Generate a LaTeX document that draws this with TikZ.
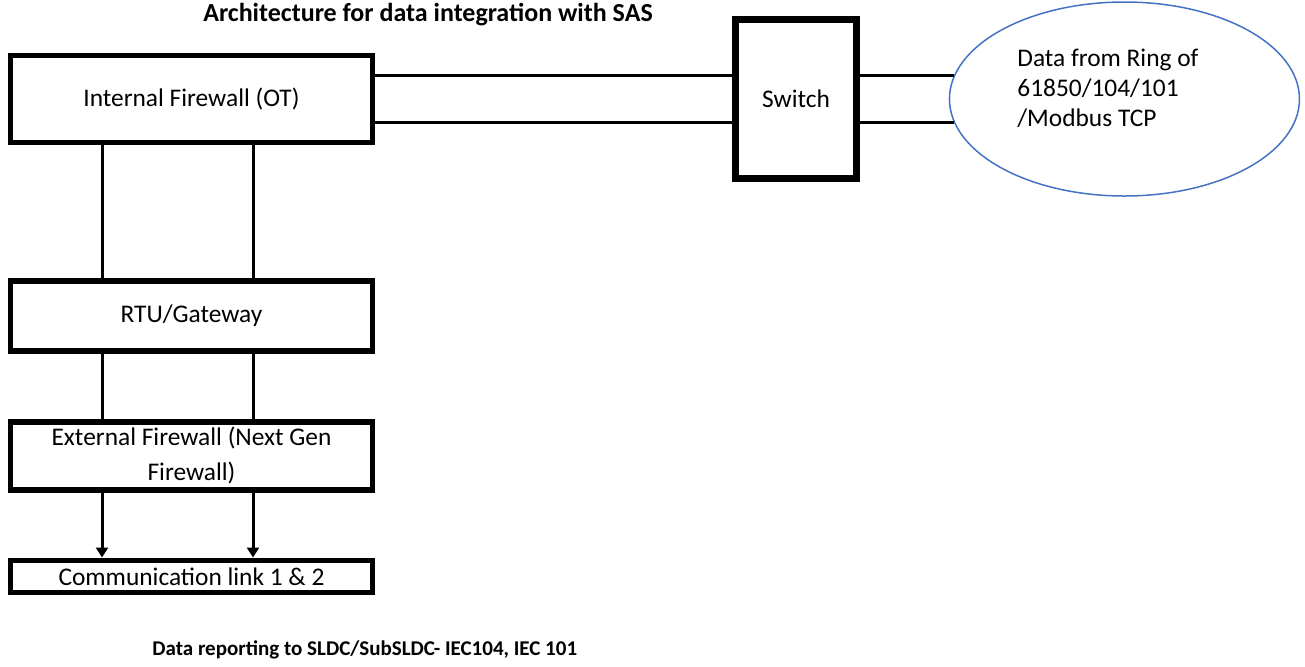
\documentclass[tikz,border=0pt]{standalone}
\usepackage{fontspec}
\setmainfont{Carlito}
\usepackage{xcolor}
\definecolor{ringblue}{RGB}{68,114,196}
\usetikzlibrary{arrows.meta,positioning,shapes.geometric,calc}
\tikzset{
  box/.style={draw,line width=2.8pt,minimum width=181pt,inner sep=2pt,%
    font=\fontsize{12.7}{17.5}\selectfont,align=center},
  ring/.style={draw=ringblue,line width=0.75pt,ellipse,minimum width=175pt,%
    minimum height=97pt,inner sep=0pt},
  link/.style={line width=1.5pt},
  flow/.style={line width=1.5pt,-{Triangle[length=5pt,width=6pt]}},
  caption/.style={font=\fontsize{10.5}{13}\selectfont\bfseries,inner sep=0pt},
}

\begin{document}
\begin{tikzpicture}[x=0.5pt,y=-0.5pt,node distance=32.5pt]
\useasboundingbox (0,0) rectangle (1305,666);
\node[caption,font=\fontsize{13}{15}\selectfont\bfseries,anchor=base] (title) at (428,21)
  {Architecture for data integration with SAS};
% left column
\node[box,minimum height=43.5pt] (intfw) at (191.5,99) {Internal Firewall (OT)};
\node[box,minimum height=35pt,below=66.5pt of intfw] (rtu) {RTU/Gateway};
\node[box,minimum height=34pt,below=of rtu] (extfw) {External Firewall (Next Gen\\Firewall)};
\node[box,minimum height=16pt,below=of extfw] (comm) {Communication link 1 \& 2};
% switch and ring
\node[box,minimum width=60.5pt,minimum height=79.5pt,line width=3.2pt,right=178.5pt of intfw] (switch) {Switch};
\node[ring,right=44.5pt of switch] (ring) {};
\node[font=\fontsize{12.7}{15}\selectfont,align=left,anchor=west,inner sep=0pt] (ringtxt) at (1017,88)
  {Data from Ring of\\61850/104/101\\/Modbus TCP};
\node[caption,anchor=base west] (report) at (152,655) {Data reporting to SLDC/SubSLDC- IEC104, IEC 101};
% connections
\foreach \a in {172,188}{
  \draw[link] (intfw.east |- ring.\a) -- (switch.west |- ring.\a);
  \draw[link] (switch.east |- ring.\a) -- (ring.\a);
}
\foreach \dx in {-44.75pt,30.75pt}{
  \draw[link] ([xshift=\dx]intfw.south) -- ([xshift=\dx]rtu.north);
  \draw[link] ([xshift=\dx]rtu.south) -- ([xshift=\dx]extfw.north);
  \draw[flow] ([xshift=\dx]extfw.south) -- ([xshift=\dx]comm.north);
}
\end{tikzpicture}
\end{document}
